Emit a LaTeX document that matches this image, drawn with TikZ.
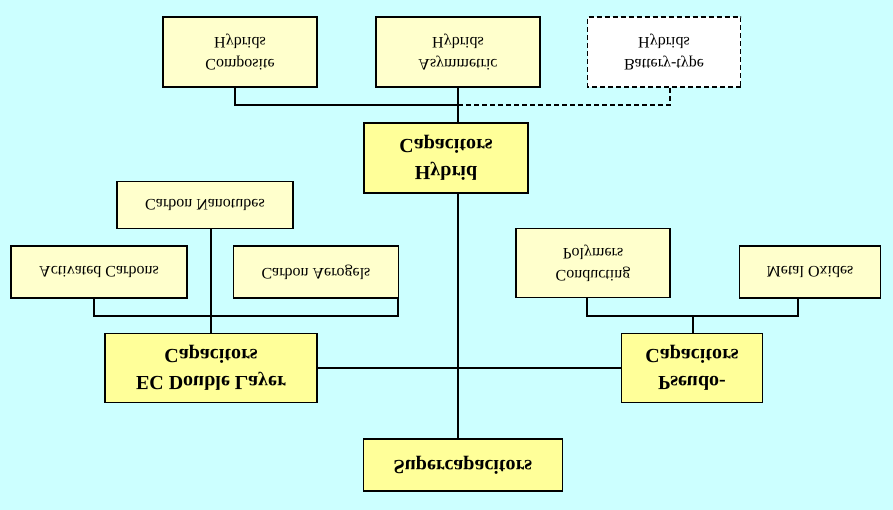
\documentclass[tikz,border=0pt]{standalone}
\usepackage{fontspec}
\setmainfont{Liberation Serif}
\usetikzlibrary{positioning}
\definecolor{bgcyan}{HTML}{CCFFFF}
\definecolor{paleyel}{HTML}{FFFFCC}
\definecolor{strongyel}{HTML}{FFFF99}
\tikzset{
    leaf/.style={rectangle, draw=black, line width=1.4pt, fill=paleyel, align=center, font=\fontsize{16}{22}\selectfont, yscale=-1, transform shape, inner sep=0pt},
    core/.style={rectangle, draw=black, line width=1.4pt, fill=strongyel, align=center, font=\fontsize{20}{27}\selectfont\bfseries, yscale=-1, transform shape, inner sep=0pt},
    ghost/.style={leaf, fill=white, dash pattern=on 5pt off 3pt},
    link/.style={line width=1.4pt}
}
\begin{document}
\begin{tikzpicture}[x=1pt, y=-1pt]
    \fill[bgcyan] (0,0) rectangle (893,510);
    \useasboundingbox (0,0) rectangle (893,510);
    % Nodes
    \node (comp) [leaf, minimum width=154pt, minimum height=70pt] at (240,52) {Composite\\Hybrids};
    \node (asym) [leaf, minimum width=164pt, minimum height=70pt] at (458,52) {Asymmetric\\Hybrids};
    \node (batt) [ghost, minimum width=153pt, minimum height=70pt] at (664,52) {Battery-type\\Hybrids};
    \node (hybrid) [core, minimum width=164pt, minimum height=70pt] at (446,158) {Hybrid\\Capacitors};
    \node (tubes) [leaf, minimum width=176pt, minimum height=47pt] at (205,205) {Carbon Nanotubes};
    \node (activ) [leaf, minimum width=176pt, minimum height=52pt] at (99,272) {Activated Carbons};
    \node (aero) [leaf, minimum width=165pt, minimum height=52pt] at (316,272) {Carbon Aerogels};
    \node (poly) [leaf, minimum width=154pt, minimum height=69pt] at (593,263) {Conducting\\Polymers};
    \node (oxide) [leaf, minimum width=141pt, minimum height=52pt] at (810,272) {Metal Oxides};
    \node (edlc) [core, minimum width=212pt, minimum height=69pt] at (211,368) {EC Double Layer\\Capacitors};
    \node (pseudo) [core, minimum width=141pt, minimum height=69pt] at (692,368) {Pseudo-\\Capacitors};
    \node (super) [core, minimum width=199pt, minimum height=52pt] at (463,465) {Supercapacitors};
    % Connectors (boxes are mirrored: north is the lower side)
    \coordinate (hj) at (458,105);
    \draw [link] (comp.north -| 235,0) |- (hj);
    \draw [link] (asym.north -| hj) -- (hybrid.south -| hj);
    \draw [link, dash pattern=on 5pt off 3pt] (hj) -| (batt.north -| 670,0);
    \draw [link] (hybrid.north -| hj) -- (super.south -| hj);
    \draw [link] (edlc.east) -- (pseudo.west);
    \draw [link] (activ.north -| 94,0) |- (211,316) -| (aero.north -| 398,0);
    \draw [link] (tubes.north -| 211,0) -- (edlc.south -| 211,0);
    \draw [link] (poly.north -| 587,0) |- (693,316) -| (oxide.north -| 798,0);
    \draw [link] (693,316) -- (pseudo.south -| 693,0);
\end{tikzpicture}
\end{document}
